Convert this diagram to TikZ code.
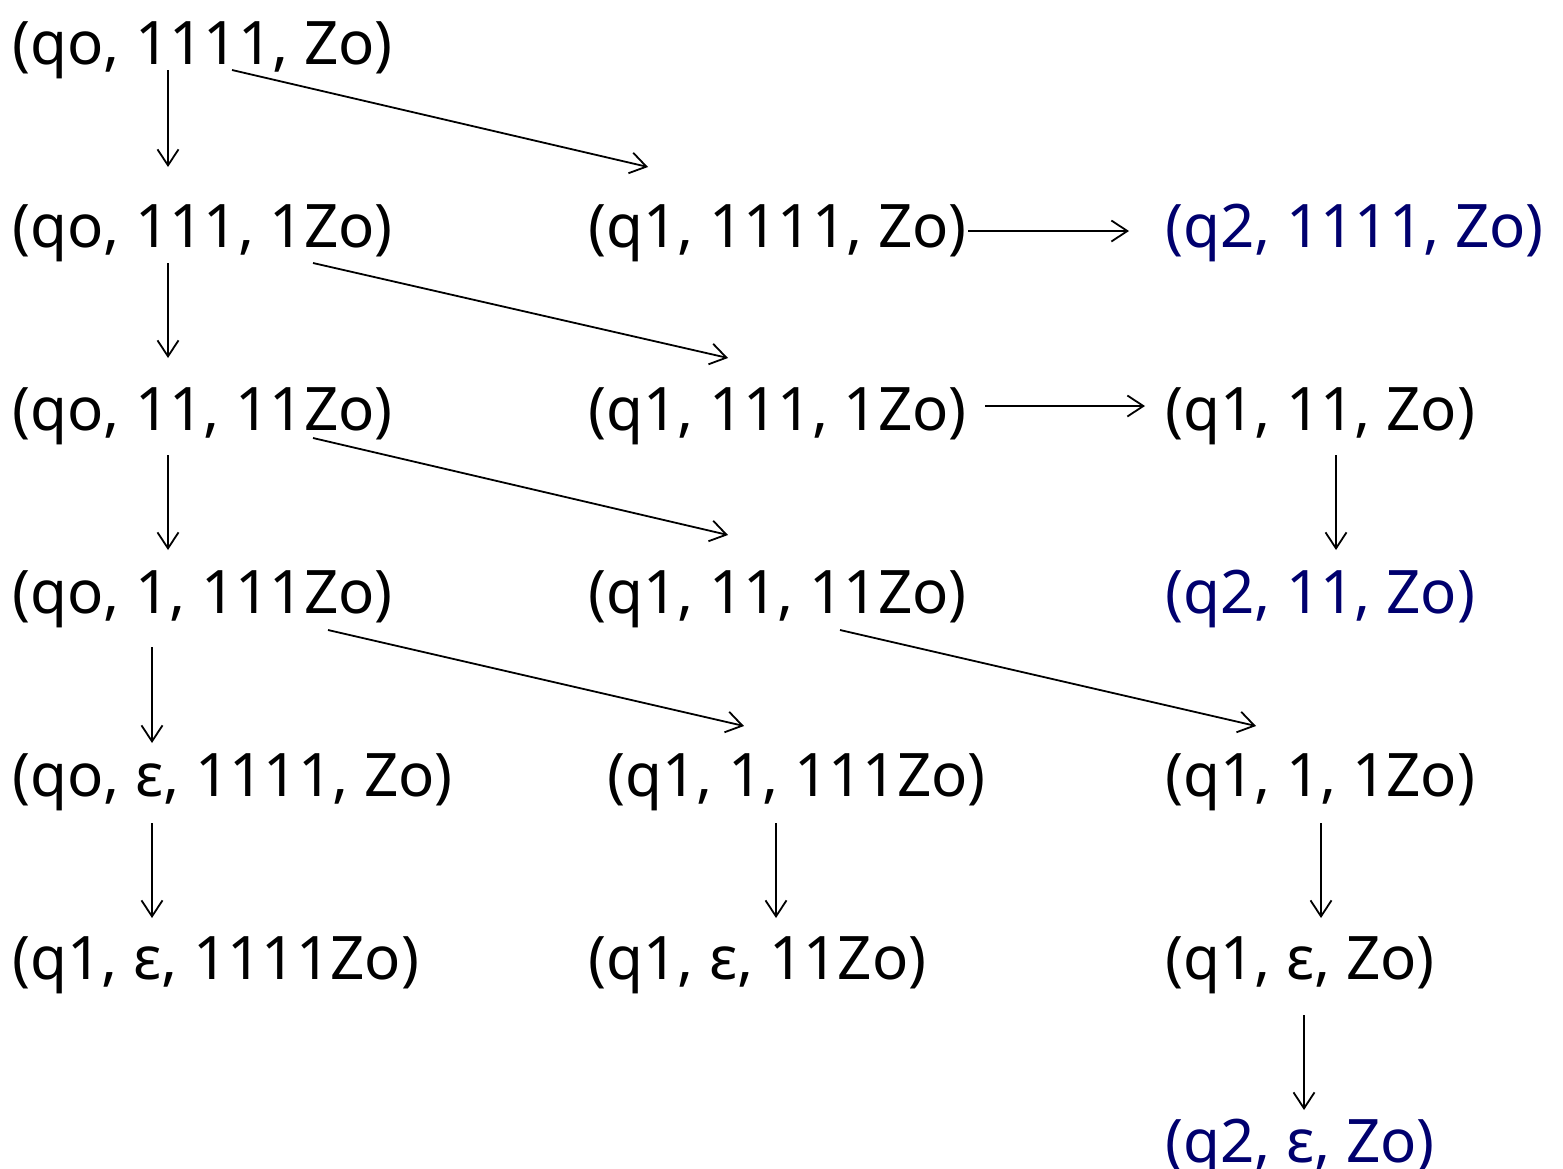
\documentclass[tikz,border=0pt]{standalone}
\usepackage{fontspec}
\setmainfont{Noto Sans}
\usetikzlibrary{arrows.meta,calc}
\definecolor{acceptblue}{RGB}{0,0,110}
\tikzset{
  cfg/.style={anchor=base west, inner sep=0pt, font=\fontsize{30}{36}\selectfont},
  acc/.style={cfg, text=acceptblue},
  arr/.style={line width=0.9pt, -{Straight Barb[length=8pt,width=10.5pt,line width=0.9pt]}}
}
\begin{document}
\begin{tikzpicture}[x=0.5pt,y=-0.5pt]
\useasboundingbox (0,0) rectangle (1563,1168);
% configurations, left column
\node[cfg] (a1) at (12,64)  {(qo, 1111, Zo)};
\node[cfg] (a2) at (12,247) {(qo, 111, 1Zo)};
\node[cfg] (a3) at (12,430) {(qo, 11, 11Zo)};
\node[cfg] (a4) at (12,613) {(qo, 1, 111Zo)};
\node[cfg] (a5) at (12,796) {(qo, ε, 1111, Zo)};
\node[cfg] (a6) at (12,979) {(q1, ε, 1111Zo)};
% middle column
\node[cfg] (b2) at (588,247) {(q1, 1111, Zo)};
\node[cfg] (b3) at (588,430) {(q1, 111, 1Zo)};
\node[cfg] (b4) at (588,613) {(q1, 11, 11Zo)};
\node[cfg] (b5) at (607,796) {(q1, 1, 111Zo)};
\node[cfg] (b6) at (588,979) {(q1, ε, 11Zo)};
% right column
\node[acc] (c2) at (1165,247)  {(q2, 1111, Zo)};
\node[cfg] (c3) at (1165,430)  {(q1, 11, Zo)};
\node[acc] (c4) at (1165,613)  {(q2, 11, Zo)};
\node[cfg] (c5) at (1165,796)  {(q1, 1, 1Zo)};
\node[cfg] (c6) at (1165,979)  {(q1, ε, Zo)};
\node[acc] (c7) at (1165,1162) {(q2, ε, Zo)};
% vertical moves
\draw[arr] ($(a1.base west)+(156,6)$)  -- ($(a2.base west)+(156,-80)$);
\draw[arr] ($(a2.base west)+(156,16)$) -- ($(a3.base west)+(156,-72)$);
\draw[arr] ($(a3.base west)+(156,25)$) -- ($(a4.base west)+(156,-63)$);
\draw[arr] ($(a4.base west)+(140,34)$) -- ($(a5.base west)+(140,-53)$);
\draw[arr] ($(a5.base west)+(140,27)$) -- ($(a6.base west)+(140,-61)$);
\draw[arr] ($(b5.base west)+(169,27)$) -- ($(b6.base west)+(188,-61)$);
\draw[arr] ($(c3.base west)+(171,25)$) -- ($(c4.base west)+(171,-63)$);
\draw[arr] ($(c5.base west)+(156,27)$) -- ($(c6.base west)+(156,-61)$);
\draw[arr] ($(c6.base west)+(139,36)$) -- ($(c7.base west)+(139,-52)$);
% diagonal moves
\draw[arr] ($(a1.base west)+(220,6)$)  -- ($(b2.base west)+(60,-80)$);
\draw[arr] ($(a2.base west)+(301,16)$) -- ($(b3.base west)+(140,-72)$);
\draw[arr] ($(a3.base west)+(301,8)$)  -- ($(b4.base west)+(140,-78)$);
\draw[arr] ($(a4.base west)+(316,17)$) -- ($(b5.base west)+(137,-70)$);
\draw[arr] ($(b4.base west)+(252,17)$) -- ($(c5.base west)+(91,-70)$);
% horizontal moves
\draw[arr] ($(b2.base west)+(380,-16)$) -- ($(c2.base west)+(-36,-16)$);
\draw[arr] ($(b3.base west)+(397,-24)$) -- ($(c3.base west)+(-20,-24)$);
\end{tikzpicture}
\end{document}
